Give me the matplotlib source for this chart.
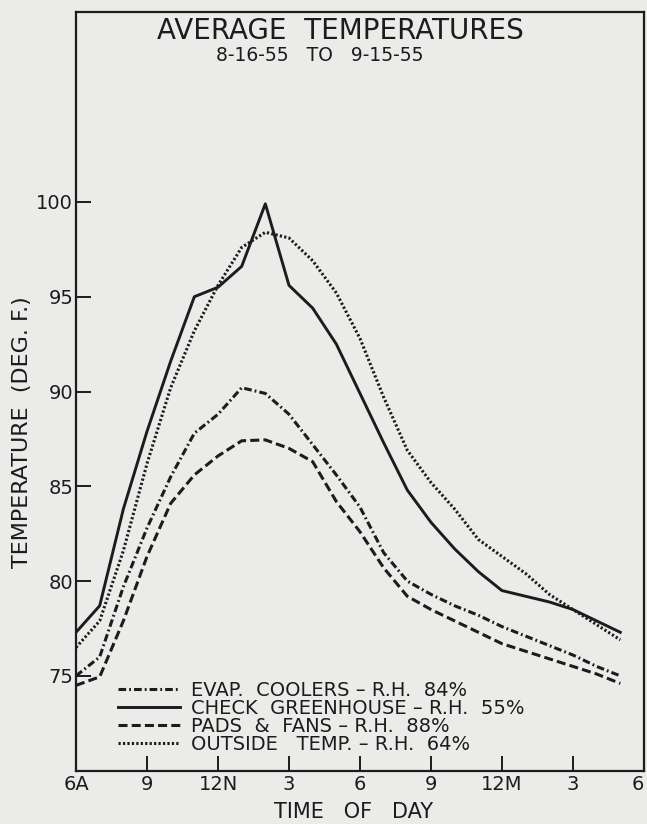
import matplotlib
matplotlib.use("Agg")
import matplotlib.pyplot as plt

# ---- data (hour of day, 6 = 6 AM, 24 = midnight, 29 = 5 AM next day) ----
hours = [6, 7, 8, 9, 10, 11, 12, 13, 14, 15, 16, 17, 18, 19, 20, 21, 22, 23, 24, 25, 26, 27, 28, 29]
evap_coolers = [75.0, 76.0, 79.7, 82.8, 85.5, 87.8, 88.8, 90.2, 89.9, 88.8, 87.2, 85.6,
                83.9, 81.5, 80.0, 79.3, 78.7, 78.2, 77.6, 77.1, 76.6, 76.1, 75.5, 75.0]
check_greenhouse = [77.3, 78.7, 83.8, 87.9, 91.6, 95.0, 95.5, 96.6, 99.9, 95.6, 94.4, 92.5,
                    89.9, 87.3, 84.8, 83.1, 81.7, 80.5, 79.5, 79.2, 78.9, 78.5, 77.9, 77.3]
pads_fans = [74.5, 74.95, 77.9, 81.3, 84.1, 85.6, 86.6, 87.4, 87.45, 87.0, 86.3, 84.2,
             82.6, 80.7, 79.2, 78.5, 77.9, 77.3, 76.7, 76.3, 75.9, 75.5, 75.1, 74.6]
outside = [76.5, 77.9, 81.6, 86.2, 90.2, 93.2, 95.6, 97.6, 98.4, 98.1, 96.9, 95.2,
           92.8, 89.7, 86.9, 85.2, 83.8, 82.2, 81.3, 80.4, 79.3, 78.5, 77.7, 76.9]

series_labels = ["EVAP.  COOLERS – R.H.  84%",
                 "CHECK  GREENHOUSE – R.H.  55%",
                 "PADS  &  FANS – R.H.  88%",
                 "OUTSIDE   TEMP. – R.H.  64%"]

xtick_pos = [6, 9, 12, 15, 18, 21, 24, 27, 30]
xtick_labels = ["6A", "9", "12N", "3", "6", "9", "12M", "3", "6"]
ytick_pos = [75, 80, 85, 90, 95, 100]

title = "AVERAGE  TEMPERATURES"
subtitle = "8-16-55   TO   9-15-55"
xlabel = "TIME   OF   DAY"
ylabel = "TEMPERATURE  (DEG. F.)"

# ---- style ----
plt.rcParams['font.family'] = ['DejaVu Sans']
plt.rcParams['lines.scale_dashes'] = False
ink = '#1c1c1c'
paper = '#ebebe9'

fig = plt.figure(figsize=(6.47, 8.24), dpi=100, facecolor=paper)
ax = fig.add_axes([0.1175, 0.0647, 0.8778, 0.9203])
ax.set_facecolor(paper)

ax.plot(hours, evap_coolers, color=ink, lw=2.2, dashes=(5.5, 2.2, 1.3, 2.2),
        label=series_labels[0])
ax.plot(hours, check_greenhouse, color=ink, lw=2.1, label=series_labels[1])
ax.plot(hours, pads_fans, color=ink, lw=2.2, dashes=(6.5, 3.0), label=series_labels[2])
ax.plot(hours, outside, color=ink, lw=2.2, dashes=(1.6, 1.6), label=series_labels[3])

ax.set_xlim(6, 30)
ax.set_ylim(70, 110)
ax.set_xticks(xtick_pos)
ax.set_xticklabels(xtick_labels)
ax.set_yticks(ytick_pos)
ax.tick_params(direction='in', length=11, width=1.4, color=ink, labelcolor=ink,
               labelsize=14)
ax.tick_params(axis='x', pad=3)
ax.tick_params(axis='y', pad=2)
ax.get_xticklabels()[-1].set_horizontalalignment('right')
for s in ax.spines.values():
    s.set_linewidth(1.6)
    s.set_color(ink)

ax.text(0.465, 0.976, title, transform=ax.transAxes, ha='center', va='center',
        fontsize=20, color=ink)
ax.text(0.43, 0.943, subtitle, transform=ax.transAxes, ha='center', va='center',
        fontsize=13.5, color=ink)

ax.set_xlabel(xlabel, fontsize=15, color=ink)
ax.xaxis.set_label_coords(0.489, -0.041)
ax.set_ylabel(ylabel, fontsize=16, color=ink)
ax.yaxis.set_label_coords(-0.078, 0.446)

leg = ax.legend(loc='lower left', bbox_to_anchor=(0.074, 0.022), frameon=False,
                fontsize=14, handlelength=3.2, handletextpad=0.55,
                labelspacing=-0.05, borderpad=0, borderaxespad=0)
for t in leg.get_texts():
    t.set_color(ink)

fig.savefig("out.png", dpi=100, facecolor=paper)
